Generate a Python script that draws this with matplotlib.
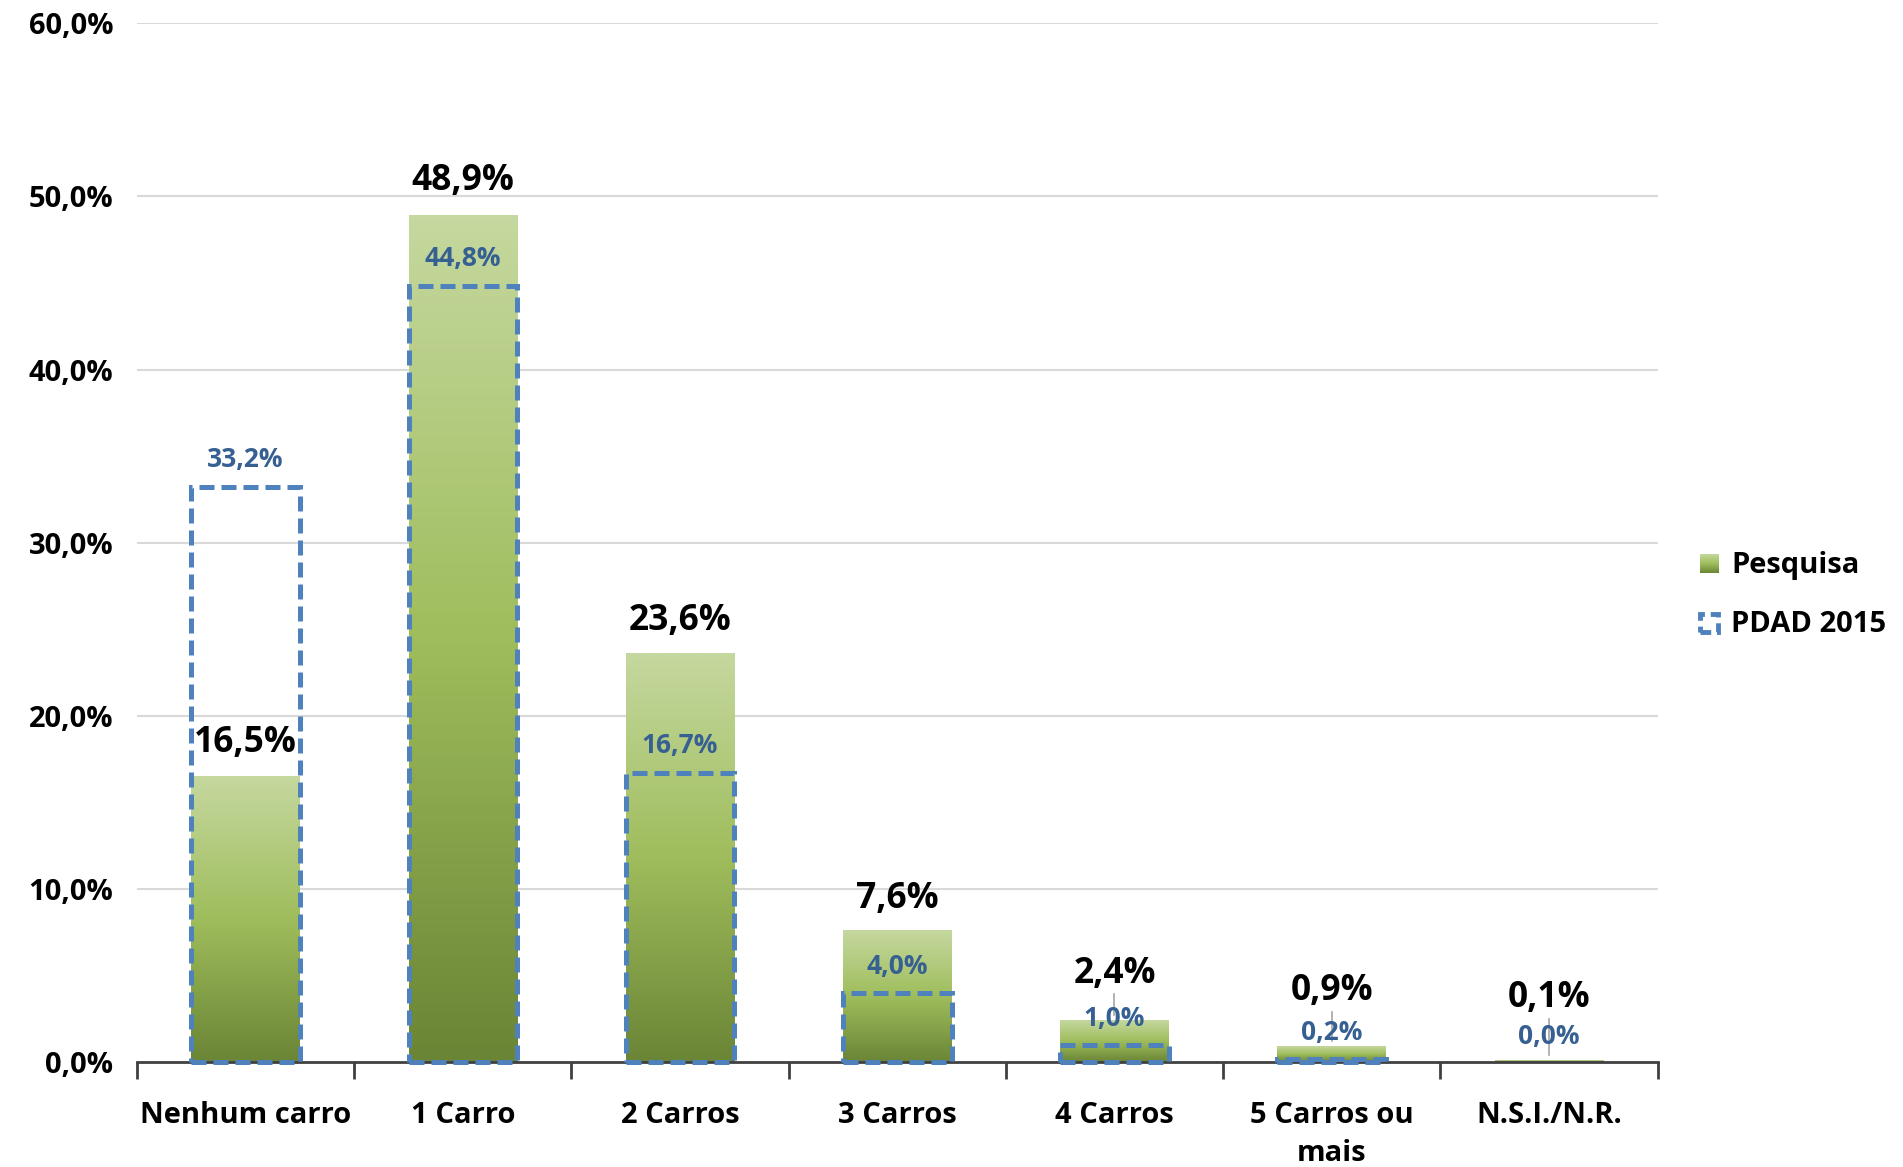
import numpy as np
import matplotlib.pyplot as plt
from matplotlib.colors import LinearSegmentedColormap
from matplotlib.patches import Rectangle
from matplotlib.legend_handler import HandlerBase
from matplotlib.image import BboxImage
from matplotlib.transforms import Bbox, TransformedBbox

plt.rcParams['font.family'] = ['Open Sans', 'DejaVu Sans']
plt.rcParams['font.weight'] = 'bold'

# data
categorias = ['Nenhum carro', '1 Carro', '2 Carros', '3 Carros', '4 Carros',
              '5 Carros ou\nmais', 'N.S.I./N.R.']
pesquisa = [16.5, 48.9, 23.6, 7.6, 2.4, 0.9, 0.1]
pdad_2015 = [33.2, 44.8, 16.7, 4.0, 1.0, 0.2, 0.0]
yticks = [0, 10, 20, 30, 40, 50, 60]

# label layout (offsets above bar tops, in % units)
off_pesq = [1.9, 2.0, 1.9, 1.8, 2.7, 3.2, 3.6]
off_pdad = [1.6, 1.6, 1.6, 1.5, 1.5, 1.5, 1.5]

green = LinearSegmentedColormap.from_list(
    'g', ['#6a8535', '#9fbd5c', '#c5d89f'])
blue_edge = '#4f81bd'
blue_txt = '#376092'
grad = np.linspace(0, 1, 256).reshape(-1, 1)
dash = (0, (3.0, 1.4))

fig = plt.figure(figsize=(19.03, 11.67), dpi=100)
ax = fig.add_axes([0.072, 0.090, 0.799, 0.890])

x = np.arange(len(categorias))
w = 0.5

ax.set_xlim(-0.5, len(categorias) - 0.5)
ax.set_ylim(0, 60)

for yy in yticks[1:]:
    ax.axhline(yy, color='#d9d9d9', lw=1.5, zorder=0)

for i, v in enumerate(pesquisa):
    if v <= 0:
        continue
    ax.imshow(grad, cmap=green, origin='lower', aspect='auto',
              extent=(x[i] - w / 2, x[i] + w / 2, 0, v), zorder=2,
              interpolation='bilinear')

for i, v in enumerate(pdad_2015):
    if v <= 0:
        continue
    ax.add_patch(Rectangle((x[i] - w / 2, 0), w, v, fill=False,
                           edgecolor=blue_edge, lw=3.6,
                           linestyle=dash, zorder=3, clip_on=False))

# leader lines for small bars
for i in [4, 5, 6]:
    ax.plot([x[i], x[i]], [pesquisa[i] + 0.3, pesquisa[i] + off_pesq[i] - 1.2],
            color='#a6a6a6', lw=1.2, zorder=1)

for i in range(len(categorias)):
    ax.text(x[i], pesquisa[i] + off_pesq[i], f'{pesquisa[i]:.1f}%'.replace('.', ','),
            ha='center', va='center', fontsize=25.5, fontweight='bold',
            color='black', zorder=5)
    ax.text(x[i], pdad_2015[i] + off_pdad[i], f'{pdad_2015[i]:.1f}%'.replace('.', ','),
            ha='center', va='center', fontsize=19, fontweight='bold',
            color=blue_txt, zorder=5)

ax.set_yticks(yticks)
ax.set_yticklabels([f'{t:.1f}%'.replace('.', ',') for t in yticks],
                   fontsize=21, fontweight='bold')
ax.tick_params(axis='y', length=0, pad=17)

ax.set_xticks(x)
ax.set_xticklabels(categorias, fontsize=21, fontweight='bold',
                   linespacing=1.4)
ax.tick_params(axis='x', length=0, pad=28)
ax.set_xticks(np.arange(-0.5, len(categorias)), minor=True)
ax.tick_params(axis='x', which='minor', length=12, width=2, color='#404040')

for s in ['top', 'right', 'left']:
    ax.spines[s].set_visible(False)
ax.spines['bottom'].set_color('#404040')
ax.spines['bottom'].set_linewidth(2)


class GradHandler(HandlerBase):
    def create_artists(self, legend, orig, xd, yd, width, height, fontsize, trans):
        s = height * 0.9
        bb = Bbox.from_bounds(xd + width - s, yd, s, s)
        img = BboxImage(TransformedBbox(bb, trans), cmap=green,
                        interpolation='bilinear', origin='lower')
        img.set_data(grad)
        return [img]


class DashHandler(HandlerBase):
    def create_artists(self, legend, orig, xd, yd, width, height, fontsize, trans):
        s = height * 0.9
        r = Rectangle((xd + width - s, yd), s, s, fill=False,
                      edgecolor=blue_edge, lw=3.5, linestyle=(0, (2.2, 1.2)),
                      transform=trans)
        return [r]


h1 = Rectangle((0, 0), 1, 1)
h2 = Rectangle((0, 0), 1, 1)
fig.legend([h1, h2], ['Pesquisa', 'PDAD 2015'],
           handler_map={h1: GradHandler(), h2: DashHandler()},
           loc='center left', bbox_to_anchor=(0.892, 0.49), frameon=False,
           borderaxespad=0, borderpad=0,
           prop={'size': 21, 'weight': 'bold'}, handlelength=0.7,
           handletextpad=0.45, labelspacing=1.05)

fig.savefig('out.png', dpi=100)
